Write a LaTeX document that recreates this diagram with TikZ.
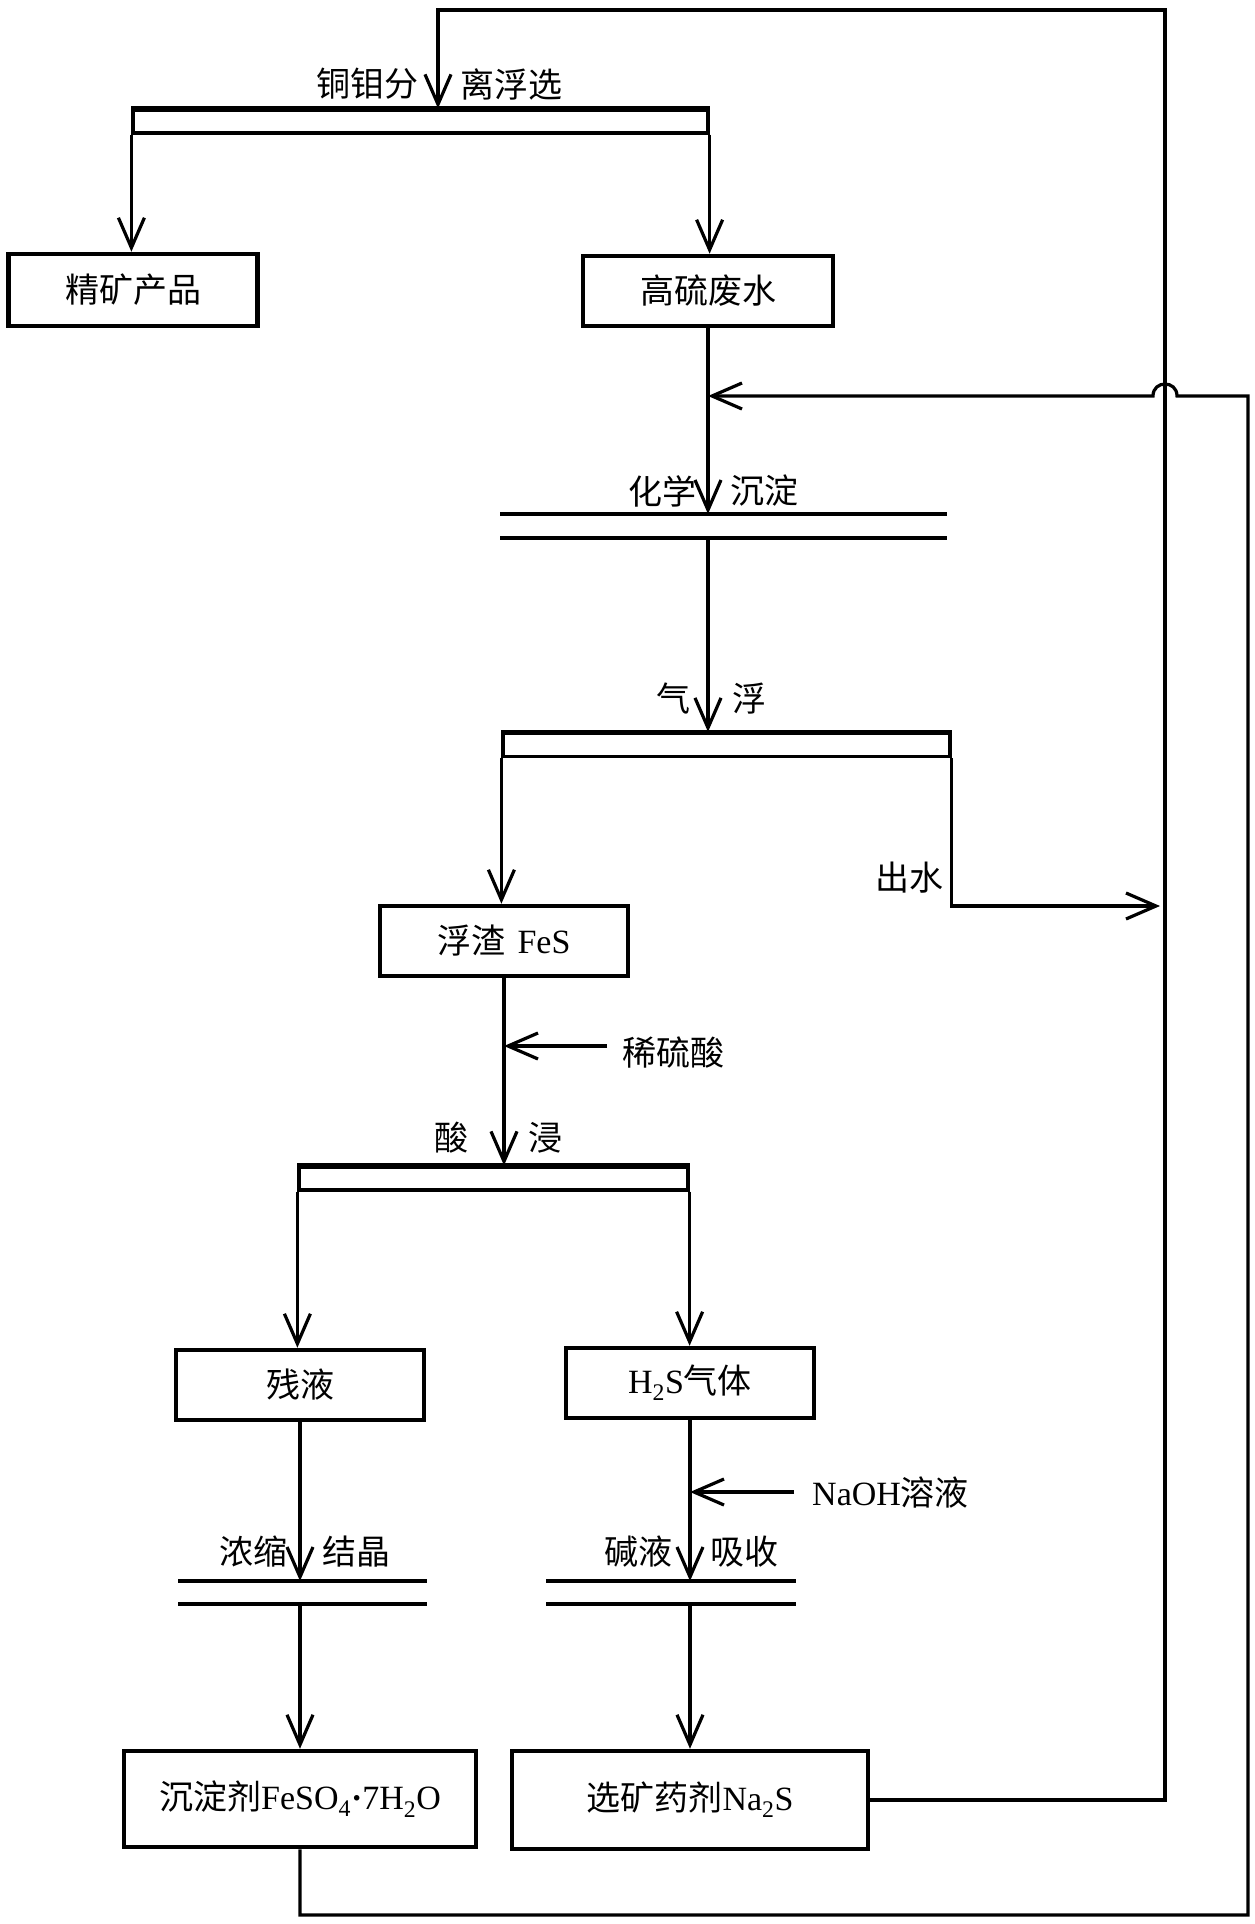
\documentclass[tikz,border=0pt]{standalone}
\usepackage{fontspec}
\setmainfont{Liberation Serif}
\newfontfamily\cjk{Noto Sans CJK SC}
\usetikzlibrary{arrows.meta}
\begin{document}
\begin{tikzpicture}[x=1pt,y=-1pt,
  box/.style={draw, line width=4.5pt, inner sep=0pt, font=\fontsize{34}{40}\selectfont},
  bar/.style={draw, line width=3.2pt, inner sep=0pt, minimum height=23pt},
  flow/.style={line width=3.2pt, line join=miter, -{Straight Barb[length=30pt,width=26pt]}},
  plain/.style={line width=3.2pt, line join=miter},
  thick top/.style={line width=4.5pt},
  lbl/.style={font=\cjk\fontsize{34}{40}\selectfont, inner sep=0pt},
  ltx/.style={font=\fontsize{34}{40}\selectfont, inner sep=0pt}]
\useasboundingbox (0,0) rectangle (1254,1924);

% top separation
\node[bar, minimum width=575pt] (b1) at (420.5,121.5) {};
\draw[thick top] (b1.north west) -- (b1.north east);
\node[lbl, anchor=east] (l1a) at (419,84) {铜钼分};
\node[lbl, anchor=west] (l1b) at (460,84) {离浮选};
\node[box, minimum width=249pt, minimum height=72pt] (jk) at (133,290) {\cjk 精矿产品};
\node[box, minimum width=250pt, minimum height=70pt] (gl) at (708,291) {\cjk 高硫废水};
\draw[flow] (b1.south west) -- (b1.south west |- jk.north);
\draw[flow] (b1.south east) -- (b1.south east |- gl.north);

% chemical precipitation
\coordinate (c1l) at (500,514); \coordinate (c1r) at (947,514);
\coordinate (c2l) at (500,538); \coordinate (c2r) at (947,538);
\draw[thick top] (c1l) -- (c1r);
\draw[plain] (c2l) -- (c2r);
\node[lbl, anchor=east] (l2a) at (697,491) {化学};
\node[lbl, anchor=west] (l2b) at (730,491) {沉淀};
\draw[flow] (gl.south) -- (gl.south |- c1l);

% air flotation
\node[bar, minimum width=447pt] (qf) at (726.5,745) {};
\draw[thick top] (qf.north west) -- (qf.north east);
\node[lbl] (l3a) at (673,699) {气};
\node[lbl] (l3b) at (749,699) {浮};
\draw[flow] (gl.south |- c2l) -- (gl.south |- qf.north);
\node[box, minimum width=248pt, minimum height=70pt] (fz) at (504,941) {{\cjk 浮渣}\hspace{12pt}FeS};
\draw[flow] (qf.south west) -- (qf.south west |- fz.north);
\coordinate (out) at (1160,906);
\draw[flow] (qf.south east) |- (out);
\node[lbl, anchor=east] (lout) at (944,878) {出水};

% acid leaching
\node[bar, minimum width=389pt] (sj) at (493.5,1178.5) {};
\draw[thick top] (sj.north west) -- (sj.north east);
\node[lbl] (l4a) at (451,1138) {酸};
\node[lbl] (l4b) at (545,1138) {浸};
\draw[flow] (fz.south) -- (fz.south |- sj.north);
\coordinate (acid) at (607,1046);
\draw[flow] (acid) -- (acid -| fz.south);
\node[lbl, anchor=west] (lacid) at (622,1052) {稀硫酸};

\node[box, minimum width=248pt, minimum height=70pt] (cy) at (300,1385) {\cjk 残液};
\node[box, minimum width=248pt, minimum height=70pt] (hs) at (690,1383) {H\textsubscript{2}S{\cjk 气体}};
\draw[flow] (sj.south west) -- (sj.south west |- cy.north);
\draw[flow] (sj.south east) -- (sj.south east |- hs.north);

% crystallisation
\coordinate (d1l) at (178,1581); \coordinate (d1r) at (427,1581);
\coordinate (d2l) at (178,1604); \coordinate (d2r) at (427,1604);
\draw[thick top] (d1l) -- (d1r);
\draw[plain] (d2l) -- (d2r);
\node[lbl, anchor=east] (l5a) at (288,1552) {浓缩};
\node[lbl, anchor=west] (l5b) at (322,1552) {结晶};
\draw[flow] (cy.south) -- (cy.south |- d1l);

% alkali absorption
\coordinate (e1l) at (546,1581); \coordinate (e1r) at (796,1581);
\coordinate (e2l) at (546,1604); \coordinate (e2r) at (796,1604);
\draw[thick top] (e1l) -- (e1r);
\draw[plain] (e2l) -- (e2r);
\node[lbl, anchor=east] (l6a) at (673,1552) {碱液};
\node[lbl, anchor=west] (l6b) at (710,1552) {吸收};
\draw[flow] (hs.south) -- (hs.south |- e1l);
\coordinate (naoh) at (794,1492);
\draw[flow] (naoh) -- (naoh -| hs.south);
\node[ltx, anchor=west] (lnaoh) at (812,1492) {NaOH{\cjk 溶液}};

% products
\node[box, minimum width=352pt, minimum height=96pt] (fe) at (300,1799) {{\cjk 沉淀剂}FeSO\textsubscript{4}\textbf{·}7H\textsubscript{2}O};
\node[box, minimum width=356pt, minimum height=98pt] (na) at (690,1800) {{\cjk 选矿药剂}Na\textsubscript{2}S};
\draw[flow] (cy.south |- d2l) -- (cy.south |- fe.north);
\draw[flow] (hs.south |- e2l) -- (hs.south |- na.north);

% recycle loops
\coordinate (tr) at (1165,10);
\coordinate (tl) at (438,10);
\draw[flow] (na.east) -- (na.east -| tr) -- (tr) -- (tl) -- (tl |- b1.north);
\coordinate (br) at (1248,1915);
\coordinate (fb) at (1248,396);
\coordinate (gj) at (708,396);
\draw[flow] (fe.south) -- (fe.south |- br) -- (br) -- (fb) -- (1177,396) .. controls (1177,380) and (1153,380) .. (1153,396) -- (gj);
\end{tikzpicture}
\end{document}
